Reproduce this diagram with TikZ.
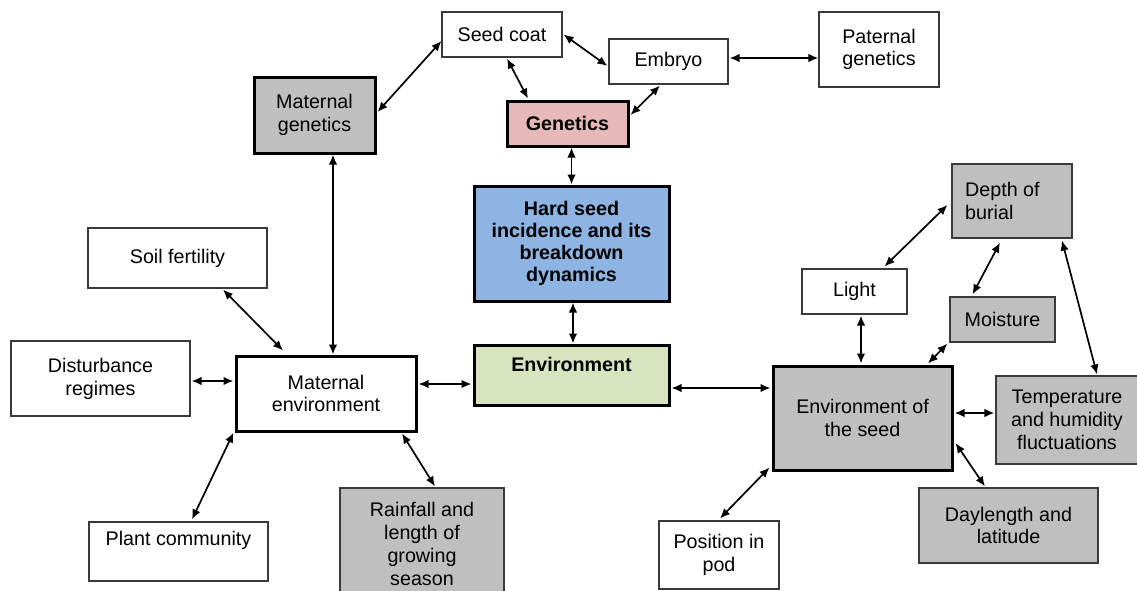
\documentclass[tikz,border=0pt]{standalone}
\usepackage{fontspec}
\setmainfont{Liberation Sans}
\usetikzlibrary{arrows.meta,calc}
\definecolor{boxgray}{HTML}{BFBFBF}
\definecolor{pinkfill}{HTML}{E6B9B8}
\definecolor{bluefill}{HTML}{8DB4E2}
\definecolor{greenfill}{HTML}{D7E4BD}
\definecolor{thinline}{HTML}{3A3A3A}
\tikzset{
  base/.style={rectangle, inner sep=0pt, align=center,
    font=\fontsize{19.7}{22.8}\selectfont},
  thinbox/.style={base, draw=thinline, line width=1.1pt, fill=white},
  thickbox/.style={base, draw=black, line width=3pt},
  graybox/.style={thinbox, fill=boxgray},
  txt/.style={inner sep=0pt, align=center, font=\fontsize{19.7}{22.8}\selectfont},
  link/.style={line width=1.7pt, {Latex[length=10pt,width=8.5pt]}-{Latex[length=10pt,width=8.5pt]}},
}
\begin{document}
\begin{tikzpicture}[x=1pt,y=-1pt]
\clip (0,0) rectangle (1137,590);
\fill[white] (0,0) rectangle (1137,590);

% top genetics cluster
\node[thinbox, minimum width=120, minimum height=45] (seedcoat) at (502,34.5) {Seed coat};
\node[thinbox, minimum width=119, minimum height=45] (embryo) at (668.5,61.5) {Embryo};
\node[thinbox, minimum width=120, minimum height=75] (paternal) at (879,49.5) {Paternal\\genetics};
\node[thickbox, fill=boxgray, minimum width=121, minimum height=76] (matgen) at (314.5,115) {Maternal\\genetics};
\node[thickbox, fill=pinkfill, minimum width=121, minimum height=45, font=\fontsize{19.7}{22.8}\selectfont\bfseries] (genetics) at (567.5,123.5) {Genetics};

% centre
\node[thickbox, fill=bluefill, minimum width=195, minimum height=115, font=\fontsize{19.7}{22}\selectfont\bfseries] (hard) at (571.5,243.5) {Hard seed\\incidence and its\\breakdown\\dynamics};
\node[thickbox, fill=greenfill, minimum width=195, minimum height=60] (env) at (571.5,375) {};
\node[txt, font=\fontsize{19.7}{22.8}\selectfont\bfseries] (envtext) at (571.5,364) {Environment};

% left cluster
\node[thinbox, minimum width=179, minimum height=60] (soil) at (177.5,258) {Soil fertility};
\node[thinbox, minimum width=179, minimum height=75] (disturb) at (100.5,378.5) {Disturbance\\regimes};
\node[thickbox, fill=white, minimum width=180, minimum height=75] (matenv) at (326,393.5) {Maternal\\environment};
\node[thinbox, minimum width=179, minimum height=59] (plant) at (178.5,551.5) {};
\node[txt] (planttext) at (178.5,540) {Plant community};
\node[graybox, minimum width=164, minimum height=112] (rain) at (422,544) {Rainfall and\\length of\\growing\\season};

% right cluster
\node[thinbox, minimum width=105, minimum height=45] (light) at (854.5,291.5) {Light};
\node[graybox, minimum width=120, minimum height=74] (depth) at (1012,201) {};
\node[txt, anchor=west, align=left] (depthtext) at (965,201) {Depth of\\burial};
\node[graybox, minimum width=105, minimum height=45] (moisture) at (1002.5,319.5) {Moisture};
\node[thickbox, fill=boxgray, minimum width=179, minimum height=104] (envseed) at (862.5,418) {Environment of\\the seed};
\node[graybox, minimum width=142, minimum height=88] (temp) at (1067,420) {Temperature\\and humidity\\fluctuations};
\node[graybox, minimum width=179, minimum height=75] (day) at (1008.5,525.5) {Daylength and\\latitude};
\node[thinbox, minimum width=120, minimum height=68] (pod) at (719,555) {Position in\\pod};

% connectors: genetics
\draw[link] ($(matgen.east)+(1,-3)$) -- ($(seedcoat.west)+(0,6.5)$);
\draw[link] ($(seedcoat.south)+(5,1)$) -- ($(genetics.north)+(-39.5,-1)$);
\draw[link] ($(seedcoat.east)+(1,0)$) -- ($(embryo.west)+(-1,4.5)$);
\draw[link] ($(embryo.south)+(-8.5,1)$) -- ($(genetics.east)+(1,-8.5)$);
\draw[link] ($(embryo.east)+(1,-3.5)$) -- ($(paternal.west)+(0,8.5)$);
\draw[link] (hard.north |- genetics.south) -- (hard.north);
\draw[link] ($(hard.south)+(1.5,0)$) -- ($(env.north)+(1.5,0)$);
\draw[link] ($(matgen.south)+(18.5,0)$) -- ($(matenv.north)+(7,0)$);

% connectors: maternal environment
\draw[link] ($(soil.south)+(45.5,1)$) -- ($(matenv.north)+(-43,-4)$);
\draw[link] ($(disturb.east)+(1,2.5)$) -- ($(matenv.west)+(-1,-12.5)$);
\draw[link] ($(plant.north)+(13.5,-2)$) -- ($(matenv.south west)+(-1,0)$);
\draw[link] ($(matenv.south)+(76,1)$) -- ($(rain.north)+(13,-1)$);
\draw[link] ($(matenv.east)+(1,-9.5)$) -- ($(env.west)+(-1,9)$);

% connectors: environment of the seed
\draw[link] ($(env.east)+(1,13)$) -- ($(envseed.west)+(-1,-30)$);
\draw[link] ($(light.south)+(6.5,1)$) -- ($(envseed.north)+(-1.5,-1)$);
\draw[link] ($(light.north)+(30,-2)$) -- ($(depth.west)+(-4,4)$);
\draw[link] ($(depth.south)+(-12,4)$) -- ($(moisture.north)+(-30,-2)$);
\draw[link] ($(moisture.south west)+(-2,1)$) -- ($(envseed.north)+(65.5,-1)$);
\draw[link] ($(depth.south)+(50,2)$) -- ($(temp.north)+(30,-1)$);
\draw[link] ($(envseed.east)+(1,-5)$) -- ($(temp.west)+(-1,-7)$);
\draw[link] ($(envseed.east)+(2,25)$) -- ($(day.north)+(-23.5,-1)$);
\draw[link] ($(envseed.south west)+(-2,-4)$) -- ($(pod.north)+(1,-2)$);
\end{tikzpicture}
\end{document}
